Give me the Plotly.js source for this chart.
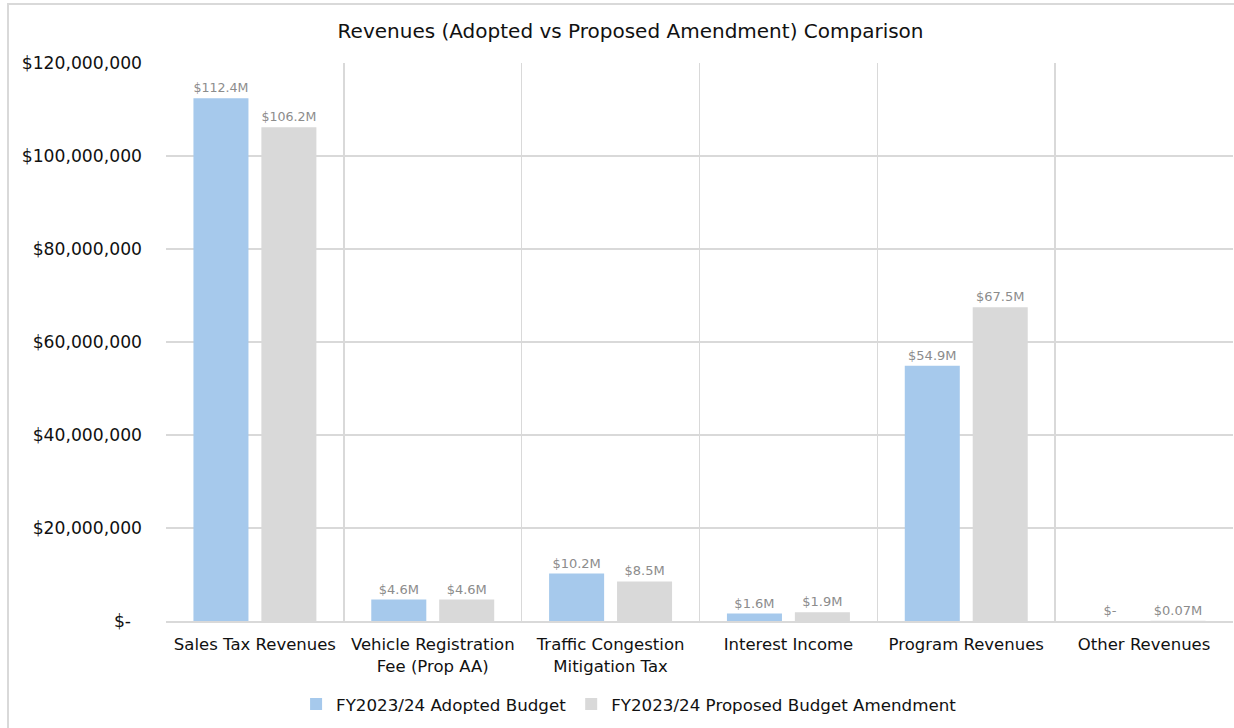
<!DOCTYPE html>
<html>
<head>
<meta charset="utf-8">
<script src="https://cdn.plot.ly/plotly-3.0.1.min.js"></script>
<style>
  html, body { margin: 0; padding: 0; background: #fff; }
  #wrap { position: relative; width: 1234px; height: 728px; overflow: hidden; }
  #chart { width: 1234px; height: 728px; }
  #frame { position: absolute; left: 7px; top: 3px; width: 1240px; height: 740px;
           border: 2px solid #d9d9d9; box-sizing: border-box; pointer-events: none; }
</style>
</head>
<body>
<div id="wrap">
  <div id="chart"></div>
  <div id="frame"></div>
</div>
<script>
const categories = [
  "Sales Tax Revenues",
  "Vehicle Registration<br>Fee (Prop AA)",
  "Traffic Congestion<br>Mitigation Tax",
  "Interest Income",
  "Program Revenues",
  "Other Revenues"
];
const adoptedName = "FY2023/24 Adopted Budget";
const proposedName = "FY2023/24 Proposed Budget Amendment";
const adopted = [112400000, 4600000, 10200000, 1600000, 54900000, 0];
const proposed = [106200000, 4600000, 8500000, 1900000, 67500000, 70000];
const adoptedLabels = ["$112.4M", "$4.6M", "$10.2M", "$1.6M", "$54.9M", "$-"];
const proposedLabels = ["$106.2M", "$4.6M", "$8.5M", "$1.9M", "$67.5M", "$0.07M"];
const yTickVals = [0, 20000000, 40000000, 60000000, 80000000, 100000000, 120000000];
const yTickText = ["$-\u00a0\u00a0", "$20,000,000", "$40,000,000", "$60,000,000", "$80,000,000", "$100,000,000", "$120,000,000"];

const FONT = "DejaVu Sans, sans-serif";
const labelFont = { family: FONT, size: 13, color: "#8c8c8c" };

const traces = [
  {
    type: "bar", name: adoptedName, x: categories, y: adopted,
    text: adoptedLabels, texttemplate: "%{text}", textposition: "outside",
    textfont: labelFont, cliponaxis: false,
    marker: { color: "#A6C9EC" }, hoverinfo: "skip"
  },
  {
    type: "bar", name: proposedName, x: categories, y: proposed,
    text: proposedLabels, texttemplate: "%{text}", textposition: "outside",
    textfont: labelFont, cliponaxis: false,
    marker: { color: "#D9D9D9" }, hoverinfo: "skip"
  }
];

const layout = {
  width: 1234, height: 728,
  margin: { l: 166, r: 1, t: 63, b: 107, pad: 0 },
  paper_bgcolor: "#ffffff", plot_bgcolor: "#ffffff",
  font: { family: FONT, size: 16, color: "#111111" },
  title: {
    text: "Revenues (Adopted vs Proposed Amendment) Comparison",
    font: { family: FONT, size: 20, color: "#111111" },
    x: 0.511, xref: "container", xanchor: "center",
    y: 0.958, yref: "container", yanchor: "middle"
  },
  barmode: "group", bargap: 0.236, bargroupgap: 0.19,
  xaxis: {
    type: "category", tickson: "boundaries", showgrid: true,
    gridcolor: "#d9d9d9", gridwidth: 1.5,
    showline: true, linecolor: "#d9d9d9", linewidth: 1.5,
    ticks: "", ticklabelstandoff: 8,
    tickfont: { family: FONT, size: 16.5, color: "#111111" },
    mirror: false, fixedrange: true
  },
  yaxis: {
    range: [0, 120000000], tickmode: "array",
    tickvals: yTickVals, ticktext: yTickText,
    showgrid: true, gridcolor: "#d9d9d9", gridwidth: 1.5,
    zeroline: false, showline: false, ticks: "",
    ticklabelstandoff: 23,
    tickfont: { family: FONT, size: 17.2, color: "#111111" },
    fixedrange: true
  },
  showlegend: true,
  legend: {
    orientation: "h", x: 0.434, xanchor: "center",
    y: -0.149, yanchor: "middle",
    font: { family: FONT, size: 16.7, color: "#111111" },
    itemwidth: 30, traceorder: "normal"
  }
};

Plotly.newPlot("chart", traces, layout, { displayModeBar: false, staticPlot: true });
</script>
</body>
</html>
